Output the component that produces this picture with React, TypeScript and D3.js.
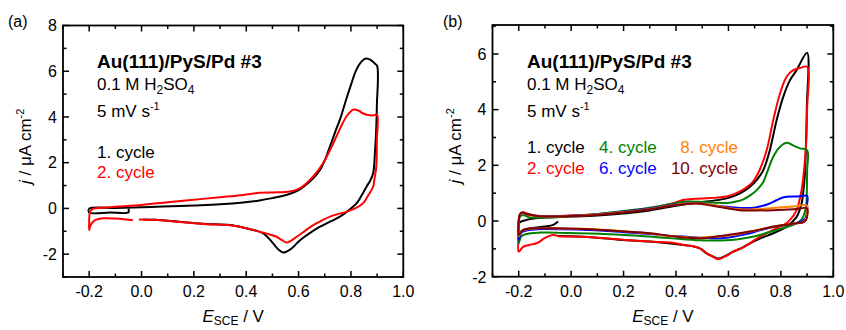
import React from "react";
import * as d3 from "d3";

const FONT = "'Liberation Sans', Arial, Helvetica, sans-serif";

// ---------- tick values ----------
const xMajorTicks = [-0.2, 0.0, 0.2, 0.4, 0.6, 0.8, 1.0];
const xMinorTicks = [-0.3, -0.1, 0.1, 0.3, 0.5, 0.7, 0.9];
const aYMajorTicks = [-2, 0, 2, 4, 6, 8];
const aYMinorTicks = [-3, -1, 1, 3, 5, 7];
const bYMajorTicks = [-2, 0, 2, 4, 6];
const bYMinorTicks = [-1, 1, 3, 5, 7];

// ---------- panel (a) ----------
const aCycle1: [number, number][] = [
  [-0.05, -0.02], [-0.05, -0.17], [-0.12, -0.18], [-0.2, -0.18], [-0.2, -0.01],
  [-0.1, 0.02], [0.0, 0.05], [0.08, 0.08], [0.2, 0.13], [0.3, 0.18], [0.388, 0.26],
  [0.45, 0.35], [0.5, 0.45], [0.53, 0.52], [0.57, 0.65], [0.6, 0.8], [0.62, 0.96],
  [0.65, 1.25], [0.68, 1.65], [0.7, 2.1], [0.72, 2.72], [0.74, 3.35], [0.76, 3.95],
  [0.78, 4.7], [0.8, 5.4], [0.82, 6.05], [0.84, 6.42], [0.857, 6.56], [0.875, 6.5],
  [0.89, 6.35], [0.9, 6.23],
  [0.899, 4.5], [0.897, 3.6], [0.892, 2.5], [0.885, 1.55], [0.873, 1.2], [0.86, 0.96],
  [0.84, 0.55], [0.822, 0.23], [0.79, -0.1], [0.758, -0.36], [0.72, -0.58], [0.682, -0.8],
  [0.64, -1.1], [0.61, -1.35], [0.593, -1.53], [0.57, -1.78], [0.541, -1.93], [0.525, -1.82],
  [0.503, -1.53], [0.485, -1.3], [0.465, -1.09], [0.44, -0.98], [0.4, -0.87], [0.338, -0.73],
  [0.247, -0.68], [0.146, -0.58], [0.05, -0.5], [0.006, -0.48],
];
const aCycle2: [number, number][] = [
  [-0.033, -0.52], [-0.06, -0.48], [-0.1, -0.44], [-0.147, -0.43], [-0.17, -0.48],
  [-0.185, -0.58], [-0.195, -0.75], [-0.2, -0.95], [-0.2, -0.6], [-0.199, -0.29],
  [-0.195, -0.1], [-0.185, -0.02], [-0.17, 0.01], [-0.1, 0.07], [0.0, 0.15], [0.1, 0.27],
  [0.2, 0.38], [0.3, 0.49], [0.388, 0.59], [0.45, 0.68], [0.5, 0.7], [0.567, 0.74],
  [0.6, 0.85], [0.63, 1.1], [0.66, 1.45], [0.694, 1.99], [0.72, 2.55], [0.745, 3.16],
  [0.765, 3.65], [0.784, 4.04], [0.8, 4.25], [0.811, 4.33], [0.83, 4.27], [0.847, 4.15],
  [0.873, 4.07], [0.89, 4.08], [0.9, 4.1],
  [0.899, 3.0], [0.897, 1.84], [0.89, 1.3], [0.885, 0.96], [0.865, 0.55], [0.847, 0.23],
  [0.82, 0.02], [0.784, -0.14], [0.75, -0.25], [0.72, -0.36], [0.69, -0.52], [0.656, -0.73],
  [0.625, -0.98], [0.593, -1.24], [0.57, -1.42], [0.555, -1.49], [0.535, -1.38],
  [0.516, -1.24], [0.49, -1.14], [0.465, -1.06], [0.43, -0.96], [0.4, -0.87], [0.338, -0.74],
  [0.25, -0.69], [0.146, -0.59], [0.05, -0.5], [-0.01, -0.48],
];

// ---------- panel (b) ----------
const bCycle1: [number, number][] = [
  [-0.05, -0.02], [-0.068, -0.14], [-0.1, -0.2], [-0.131, -0.23], [-0.16, -0.27],
  [-0.183, -0.32], [-0.2, -0.44], [-0.2, -0.2], [-0.197, -0.06], [-0.17, 0.04],
  [-0.135, 0.1], [-0.1, 0.13], [0.0, 0.16], [0.1, 0.2], [0.2, 0.27], [0.3, 0.38],
  [0.4, 0.55], [0.45, 0.62], [0.5, 0.68], [0.555, 0.75], [0.6, 0.83], [0.63, 0.93],
  [0.66, 1.08], [0.682, 1.23], [0.71, 1.5], [0.733, 1.83], [0.758, 2.55], [0.784, 3.63],
  [0.809, 4.46], [0.835, 5.06], [0.86, 5.42], [0.9, 6.04],
  [0.899, 4.1], [0.895, 2.5], [0.892, 1.71], [0.885, 1.0], [0.879, 0.63], [0.86, 0.15],
  [0.822, -0.2], [0.771, -0.44], [0.72, -0.63], [0.682, -0.8], [0.65, -0.97], [0.618, -1.1],
  [0.59, -1.24], [0.561, -1.35], [0.54, -1.27], [0.517, -1.16], [0.491, -0.98], [0.46, -0.9],
  [0.428, -0.86], [0.3, -0.74], [0.2, -0.68], [0.1, -0.6], [0.0, -0.55], [-0.05, -0.54],
];
const bCycle2: [number, number][] = [
  [-0.05, -0.54], [-0.07, -0.5], [-0.09, -0.56], [-0.106, -0.64], [-0.12, -0.74],
  [-0.135, -0.81], [-0.16, -0.86], [-0.183, -0.93], [-0.2, -1.1], [-0.2, -0.5],
  [-0.198, 0.1], [-0.19, 0.3], [-0.18, 0.31], [-0.16, 0.24], [-0.137, 0.19], [-0.1, 0.17],
  [0.0, 0.2], [0.08, 0.23], [0.2, 0.33], [0.3, 0.46], [0.385, 0.63], [0.43, 0.76],
  [0.47, 0.8], [0.52, 0.82], [0.555, 0.84], [0.6, 0.9], [0.63, 1.0], [0.66, 1.15],
  [0.682, 1.3], [0.7, 1.5], [0.72, 1.85], [0.746, 2.55], [0.771, 3.63], [0.797, 4.59],
  [0.822, 5.18], [0.847, 5.42], [0.875, 5.5], [0.9, 5.54],
  [0.9, 4.0], [0.897, 2.9], [0.893, 2.31], [0.886, 1.6], [0.879, 1.11], [0.86, 0.39],
  [0.835, 0.04], [0.81, -0.15], [0.784, -0.26], [0.75, -0.42], [0.72, -0.56], [0.682, -0.8],
  [0.65, -0.97], [0.618, -1.1], [0.59, -1.26], [0.561, -1.37], [0.54, -1.28], [0.517, -1.16],
  [0.491, -0.98], [0.46, -0.9], [0.428, -0.86], [0.385, -0.78], [0.3, -0.74], [0.206, -0.68],
  [0.1, -0.6], [0.0, -0.56], [-0.05, -0.55],
];
const bCycle4: [number, number][] = [
  [-0.05, -0.42], [-0.11, -0.41], [-0.16, -0.45], [-0.19, -0.55], [-0.2, -0.8],
  [-0.2, -0.2], [-0.198, 0.1], [-0.19, 0.2], [-0.175, 0.2], [-0.16, 0.13], [-0.12, 0.12],
  [0.0, 0.17], [0.1, 0.25], [0.2, 0.36], [0.3, 0.48], [0.385, 0.62], [0.43, 0.69],
  [0.49, 0.69], [0.55, 0.66], [0.593, 0.65], [0.63, 0.7], [0.657, 0.78], [0.68, 0.9],
  [0.708, 1.11], [0.733, 1.4], [0.746, 1.71], [0.771, 2.31], [0.797, 2.67], [0.824, 2.81],
  [0.85, 2.7], [0.873, 2.61], [0.9, 2.55],
  [0.9, 1.8], [0.899, 1.0], [0.896, 0.51], [0.885, 0.15], [0.873, 0.0], [0.847, -0.14],
  [0.784, -0.32], [0.72, -0.5], [0.682, -0.58], [0.63, -0.66], [0.593, -0.69], [0.491, -0.69],
  [0.385, -0.62], [0.3, -0.56], [0.2, -0.5], [0.07, -0.45], [-0.05, -0.42],
];
const bCycle6: [number, number][] = [
  [-0.05, -0.3], [-0.15, -0.31], [-0.19, -0.42], [-0.2, -0.68], [-0.2, 0.0],
  [-0.195, 0.25], [-0.185, 0.3], [-0.17, 0.24], [-0.137, 0.19], [-0.1, 0.17], [0.0, 0.19],
  [0.1, 0.24], [0.2, 0.34], [0.3, 0.45], [0.385, 0.58], [0.45, 0.64], [0.491, 0.64],
  [0.55, 0.56], [0.6, 0.5], [0.644, 0.47], [0.69, 0.47], [0.72, 0.52], [0.75, 0.6],
  [0.771, 0.69], [0.8, 0.82], [0.822, 0.87], [0.86, 0.88], [0.9, 0.9],
  [0.9, 0.6], [0.899, 0.28], [0.892, 0.08], [0.866, -0.06], [0.822, -0.14], [0.78, -0.2],
  [0.72, -0.33], [0.682, -0.44], [0.64, -0.52], [0.593, -0.6], [0.54, -0.62], [0.491, -0.6],
  [0.43, -0.56], [0.385, -0.54], [0.3, -0.47], [0.2, -0.4], [0.07, -0.32], [-0.05, -0.3],
];
const bCycle8: [number, number][] = [
  [-0.05, -0.27], [-0.15, -0.27], [-0.19, -0.38], [-0.2, -0.55], [-0.2, 0.0],
  [-0.195, 0.25], [-0.185, 0.31], [-0.17, 0.24], [-0.137, 0.18], [-0.1, 0.16], [0.0, 0.18],
  [0.1, 0.23], [0.2, 0.32], [0.3, 0.43], [0.385, 0.57], [0.45, 0.63], [0.491, 0.63],
  [0.555, 0.55], [0.6, 0.47], [0.644, 0.42], [0.7, 0.42], [0.771, 0.47], [0.85, 0.52],
  [0.9, 0.56],
  [0.9, 0.3], [0.897, 0.1], [0.885, -0.04], [0.86, -0.08], [0.784, -0.18], [0.682, -0.38],
  [0.6, -0.52], [0.555, -0.56], [0.491, -0.6], [0.44, -0.58], [0.385, -0.55], [0.3, -0.45],
  [0.2, -0.37], [0.07, -0.29], [-0.05, -0.27],
];
const bCycle10: [number, number][] = [
  [-0.05, -0.26], [-0.111, -0.26], [-0.15, -0.26], [-0.175, -0.3], [-0.19, -0.38],
  [-0.2, -0.5], [-0.2, 0.0], [-0.195, 0.25], [-0.185, 0.31], [-0.17, 0.25], [-0.137, 0.19],
  [-0.1, 0.16], [0.0, 0.18], [0.1, 0.22], [0.2, 0.31], [0.3, 0.42], [0.385, 0.56],
  [0.428, 0.6], [0.479, 0.63], [0.52, 0.58], [0.555, 0.52], [0.6, 0.45], [0.644, 0.39],
  [0.7, 0.38], [0.771, 0.39], [0.85, 0.42], [0.9, 0.45],
  [0.9, 0.15], [0.895, 0.02], [0.885, -0.05], [0.86, -0.08], [0.784, -0.18], [0.682, -0.38],
  [0.6, -0.5], [0.555, -0.56], [0.491, -0.62], [0.44, -0.6], [0.4, -0.56], [0.3, -0.44],
  [0.206, -0.38], [0.07, -0.3], [-0.05, -0.26],
];

const BLACK = "#000000";
const RED = "#ff0000";
const GREEN = "#008000";
const BLUE = "#0000ff";
const ORANGE = "#ff8000";
const WINE = "#800000";

type Series = { data: [number, number][]; color: string };

type PanelProps = {
  left: number;
  right: number;
  top: number;
  bottom: number;
  yDomain: [number, number];
  yMajor: number[];
  yMinor: number[];
  series: Series[];
  children?: React.ReactNode;
};

function Panel({ left, right, top, bottom, yDomain, yMajor, yMinor, series, children }: PanelProps) {
  const x = d3.scaleLinear().domain([-0.3, 1.0]).range([left, right]);
  const y = d3.scaleLinear().domain(yDomain).range([bottom, top]);
  const line = d3
    .line<[number, number]>()
    .x((d) => x(d[0]))
    .y((d) => y(d[1]))
    .curve(d3.curveCatmullRom.alpha(0.5));
  const MAJ = 6;
  const MIN = 3.5;
  const fmtX = (v: number) => (Math.abs(v) < 1e-9 ? "0.0" : d3.format(".1f")(v).replace("−", "-"));
  const fmtY = (v: number) => String(v);
  return (
    <g>
      <defs>
        <clipPath id={`clip${left}`}>
          <rect x={left} y={top} width={right - left} height={bottom - top} />
        </clipPath>
      </defs>
      <g clipPath={`url(#clip${left})`}>
        {series.map((s, i) => (
          <path key={i} d={line(s.data) || ""} fill="none" stroke={s.color} strokeWidth={2} strokeLinejoin="round" />
        ))}
      </g>
      {/* ticks */}
      <g stroke="#000" strokeWidth={1.5}>
        {xMajorTicks.map((v) => (
          <g key={"xM" + v}>
            <line x1={x(v)} x2={x(v)} y1={bottom} y2={bottom - MAJ} />
            <line x1={x(v)} x2={x(v)} y1={top} y2={top + MAJ} />
          </g>
        ))}
        {xMinorTicks.map((v) => (
          <g key={"xm" + v}>
            <line x1={x(v)} x2={x(v)} y1={bottom} y2={bottom - MIN} />
            <line x1={x(v)} x2={x(v)} y1={top} y2={top + MIN} />
          </g>
        ))}
        {yMajor.map((v) => (
          <g key={"yM" + v}>
            <line x1={left} x2={left + MAJ} y1={y(v)} y2={y(v)} />
            <line x1={right} x2={right - MAJ} y1={y(v)} y2={y(v)} />
          </g>
        ))}
        {yMinor.map((v) => (
          <g key={"ym" + v}>
            <line x1={left} x2={left + MIN} y1={y(v)} y2={y(v)} />
            <line x1={right} x2={right - MIN} y1={y(v)} y2={y(v)} />
          </g>
        ))}
      </g>
      <rect x={left} y={top} width={right - left} height={bottom - top} fill="none" stroke="#000" strokeWidth={1.8} />
      {/* tick labels */}
      <g fontFamily={FONT} fontSize={16} fill="#000">
        {xMajorTicks.map((v) => (
          <text key={"xl" + v} x={x(v)} y={bottom + 20} textAnchor="middle">
            {fmtX(v)}
          </text>
        ))}
        {yMajor.map((v) => (
          <text key={"yl" + v} x={left - 6} y={y(v) + 5.8} textAnchor="end">
            {fmtY(v)}
          </text>
        ))}
      </g>
      {/* axis titles */}
      <text
        fontFamily={FONT}
        fontSize={17}
        textAnchor="middle"
        transform={`translate(${left - 32},${(top + bottom) / 2 - 5}) rotate(-90)`}
      >
        <tspan fontStyle="italic">j</tspan>
        <tspan> / μA cm</tspan>
        <tspan fontSize={11} dy={-7}>-2</tspan>
      </text>
      <text fontFamily={FONT} fontSize={17} textAnchor="middle" x={(left + right) / 2} y={322}>
        <tspan fontStyle="italic">E</tspan>
        <tspan fontSize={12} dy={3}>SCE</tspan>
        <tspan dy={-3}> / V</tspan>
      </text>
      {children}
    </g>
  );
}

function Header({ x0 }: { x0: number }) {
  return (
    <g fontFamily={FONT} fill="#000">
      <text x={x0} y={68} fontSize={19} fontWeight="bold">Au(111)/PyS/Pd #3</text>
      <text x={x0} y={90} fontSize={17}>
        <tspan>0.1 M H</tspan>
        <tspan fontSize={12} dy={4}>2</tspan>
        <tspan dy={-4}>SO</tspan>
        <tspan fontSize={12} dy={4}>4</tspan>
      </text>
      <text x={x0} y={117} fontSize={17}>
        <tspan>5 mV s</tspan>
        <tspan fontSize={11} dy={-7}>-1</tspan>
      </text>
    </g>
  );
}

export default function App() {
  return (
    <svg
      width={846}
      height={330}
      viewBox="0 0 846 330"
      style={{ position: "absolute", left: 0, top: 0, background: "#fff" }}
    >
      <rect x={0} y={0} width={846} height={330} fill="#fff" />
      <text x={8} y={27} fontFamily={FONT} fontSize={16}>(a)</text>
      <text x={443} y={27} fontFamily={FONT} fontSize={16}>(b)</text>

      <Panel
        left={63}
        right={403.3}
        top={25.5}
        bottom={277}
        yDomain={[-3, 8]}
        yMajor={aYMajorTicks}
        yMinor={aYMinorTicks}
        series={[
          { data: aCycle1, color: BLACK },
          { data: aCycle2, color: RED },
        ]}
      >
        <Header x0={97} />
        <g fontFamily={FONT} fontSize={17}>
          <text x={97} y={157.5} fill={BLACK}>1. cycle</text>
          <text x={97} y={178} fill={RED}>2. cycle</text>
        </g>
      </Panel>

      <Panel
        left={492.5}
        right={833.3}
        top={25}
        bottom={276.7}
        yDomain={[-2, 7.04]}
        yMajor={bYMajorTicks}
        yMinor={bYMinorTicks}
        series={[
          { data: bCycle1, color: BLACK },
          { data: bCycle2, color: RED },
          { data: bCycle4, color: GREEN },
          { data: bCycle6, color: BLUE },
          { data: bCycle8, color: ORANGE },
          { data: bCycle10, color: WINE },
        ]}
      >
        <Header x0={527} />
        <g fontFamily={FONT} fontSize={17}>
          <text x={527} y={153} fill={BLACK}>1. cycle</text>
          <text x={527} y={173.5} fill={RED}>2. cycle</text>
          <text x={599} y={153} fill={GREEN}>4. cycle</text>
          <text x={599} y={173.5} fill={BLUE}>6. cycle</text>
          <text x={738} y={153} fill={ORANGE} textAnchor="end">8. cycle</text>
          <text x={738} y={173.5} fill={WINE} textAnchor="end">10. cycle</text>
        </g>
      </Panel>
    </svg>
  );
}
